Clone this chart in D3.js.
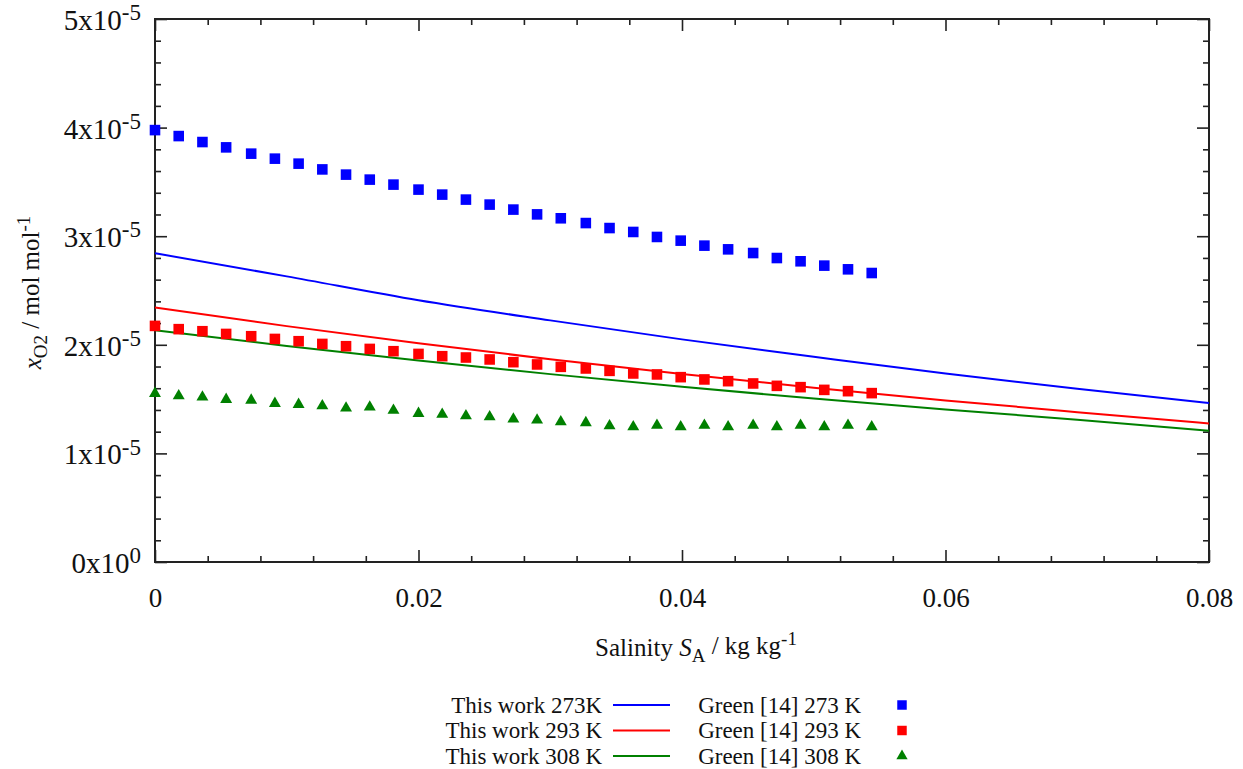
<!DOCTYPE html>
<meta charset="utf-8">
<style>
  body { margin: 0; background: #fff; }
  svg text { font-family: "Liberation Serif", "Times New Roman", serif; fill: #111; }
  .tick line { stroke: #222; stroke-width: 1.6; }
  .tick text { font-size: 27px; }
  .ylab text { font-size: 29px; }
  .frame { fill: none; stroke: #222; stroke-width: 2; }
  .title { font-size: 25px; }
  .legend text { font-size: 23px; }
</style>
<body>
<script src="https://d3js.org/d3.v7.min.js"></script>
<script>

// salinity S_A / kg kg-1 of the Green [14] points
var salinity = [0, 0.0018, 0.0036, 0.0054, 0.0073, 0.0091, 0.0109, 0.0127, 0.0145, 0.0163,
  0.0181, 0.0200, 0.0218, 0.0236, 0.0254, 0.0272, 0.0290, 0.0308, 0.0327, 0.0345,
  0.0363, 0.0381, 0.0399, 0.0417, 0.0435, 0.0454, 0.0472, 0.0490, 0.0508, 0.0526, 0.0544];

// x_O2 in units of 1e-5 mol/mol
var green273 = [3.977, 3.922, 3.867, 3.818, 3.760, 3.714, 3.668, 3.615, 3.567, 3.521,
  3.475, 3.429, 3.383, 3.337, 3.291, 3.245, 3.201, 3.165, 3.121, 3.075,
  3.039, 2.993, 2.959, 2.913, 2.879, 2.845, 2.799, 2.769, 2.729, 2.695, 2.661];
var green293 = [2.174, 2.144, 2.125, 2.100, 2.079, 2.054, 2.033, 2.008, 1.987, 1.962,
  1.941, 1.916, 1.895, 1.883, 1.865, 1.840, 1.819, 1.797, 1.782, 1.760,
  1.736, 1.727, 1.702, 1.681, 1.665, 1.644, 1.622, 1.610, 1.585, 1.573, 1.555];
var green308 = [1.552, 1.530, 1.518, 1.497, 1.490, 1.460, 1.451, 1.438, 1.417, 1.426,
  1.396, 1.368, 1.359, 1.346, 1.337, 1.316, 1.306, 1.291, 1.282, 1.254,
  1.245, 1.258, 1.245, 1.258, 1.245, 1.258, 1.245, 1.258, 1.245, 1.258, 1.245];

// model curves ("this work")
var curveSalinity = [0, 0.01, 0.02, 0.03, 0.04, 0.05, 0.06, 0.07, 0.08];
var work273 = [2.843, 2.630, 2.410, 2.225, 2.050, 1.890, 1.735, 1.595, 1.463];
var work293 = [2.343, 2.172, 2.014, 1.867, 1.731, 1.605, 1.488, 1.380, 1.276];
var work308 = [2.134, 1.990, 1.855, 1.730, 1.613, 1.505, 1.405, 1.310, 1.208];

var xMajor = [0, 0.02, 0.04, 0.06, 0.08];
var xLabels = ["0", "0.02", "0.04", "0.06", "0.08"];
var yMajor = [0, 1, 2, 3, 4, 5];
var yMantissa = ["0", "1", "2", "3", "4", "5"];
var yExponent = ["0", "-5", "-5", "-5", "-5", "-5"];

var lineNames = ["This work 273K", "This work 293 K", "This work 308 K"];
var markerNames = ["Green [14] 273 K", "Green [14] 293 K", "Green [14] 308 K"];
var colors = ["#0000ff", "#ff0000", "#008000"];

var width = 1243, height = 769;
var margin = {top: 19, right: 34, bottom: 207, left: 155};
var plotW = width - margin.left - margin.right,
    plotH = height - margin.top - margin.bottom;

var svg = d3.select("body").append("svg")
    .attr("width", width)
    .attr("height", height);

var g = svg.append("g")
    .attr("transform", "translate(" + margin.left + "," + margin.top + ")");

var x = d3.scaleLinear().domain([0, 0.08]).range([0, plotW]);
var y = d3.scaleLinear().domain([0, 5]).range([plotH, 0]);

var xMinor = d3.range(0, 41).map(function(i) { return i * 0.002; }).filter(function(v, i) { return i % 2 === 0 && i % 10 !== 0; });
var yMinor = d3.range(0, 26).map(function(i) { return i * 0.2; }).filter(function(v, i) { return i % 5 !== 0; });

// inward ticks on all four sides
function ticks(axis, vals, size, transform) {
  var a = g.append("g").attr("transform", transform || null)
    .call(axis.tickValues(vals).tickSize(-size).tickSizeOuter(0).tickFormat(""));
  a.select(".domain").remove();
  return a;
}
ticks(d3.axisBottom(x), xMinor, 6, "translate(0," + plotH + ")");
ticks(d3.axisTop(x), xMinor, 6);
ticks(d3.axisLeft(y), yMinor, 6);
ticks(d3.axisRight(y), yMinor, 6, "translate(" + plotW + ",0)");
ticks(d3.axisTop(x), xMajor, 12);
ticks(d3.axisRight(y), yMajor, 12, "translate(" + plotW + ",0)");

var xAxis = ticks(d3.axisBottom(x), xMajor, 12, "translate(0," + plotH + ")");
xAxis.selectAll(".tick text")
    .attr("y", 45)
    .attr("dy", null)
    .text(function(d, i) { return xLabels[i]; });

var yAxis = ticks(d3.axisLeft(y), yMajor, 12).attr("class", "ylab");
yAxis.selectAll(".tick text").each(function(d, i) {
  var t = d3.select(this).text(null).attr("x", -14).attr("dy", "0.36em");
  t.append("tspan").text(yMantissa[i] + "x10");
  t.append("tspan").attr("dy", "-0.42em").style("font-size", "23px").text(yExponent[i]);
});

g.append("rect").attr("class", "frame")
    .attr("width", plotW).attr("height", plotH);

// model lines
var line = d3.line()
    .x(function(d) { return x(d[0]); })
    .y(function(d) { return y(d[1]); })
    .curve(d3.curveMonotoneX);

[work273, work293, work308].forEach(function(vals, k) {
  g.append("path")
    .datum(curveSalinity.map(function(s, i) { return [s, vals[i]]; }))
    .attr("fill", "none")
    .attr("stroke", colors[k])
    .attr("stroke-width", 2)
    .attr("d", line);
});

// data points
var square = d3.symbol().type(d3.symbolSquare).size(112);
var triangle = d3.symbol().type(d3.symbolTriangle).size(62);

[green273, green293, green308].forEach(function(vals, k) {
  g.append("g").selectAll("path")
    .data(vals)
    .enter().append("path")
    .attr("d", k < 2 ? square : triangle)
    .attr("fill", colors[k])
    .attr("transform", function(d, i) {
      return "translate(" + x(salinity[i]) + "," + y(d) + ")";
    });
});

// axis titles
var xt = svg.append("text").attr("class", "title")
    .attr("x", 696).attr("y", 656)
    .attr("text-anchor", "middle");
xt.append("tspan").text("Salinity ");
xt.append("tspan").style("font-style", "italic").text("S");
xt.append("tspan").attr("dy", "0.3em").style("font-size", "19px").text("A");
xt.append("tspan").attr("dy", "-0.3em").text(" / kg kg");
xt.append("tspan").attr("dy", "-0.5em").style("font-size", "19px").text("-1");

var yt = svg.append("text").attr("class", "title")
    .attr("transform", "translate(41," + (margin.top + plotH / 2 + 2) + ") rotate(-90)")
    .attr("text-anchor", "middle");
yt.append("tspan").style("font-style", "italic").text("x");
yt.append("tspan").attr("dy", "0.3em").style("font-size", "19px").text("O2");
yt.append("tspan").attr("dy", "-0.3em").text(" / mol mol");
yt.append("tspan").attr("dy", "-0.5em").style("font-size", "19px").text("-1");

// legend
var legend = svg.append("g").attr("class", "legend");
var rowY = d3.scaleLinear().domain([0, 1]).range([705, 730.5]);

lineNames.forEach(function(name, k) {
  var yy = rowY(k);
  legend.append("text").attr("x", 602).attr("y", yy).attr("dy", "0.33em")
    .attr("text-anchor", "end").text(name);
  legend.append("line").attr("x1", 613).attr("x2", 670)
    .attr("y1", yy).attr("y2", yy)
    .attr("stroke", colors[k]).attr("stroke-width", 2);
  legend.append("text").attr("x", 861).attr("y", yy).attr("dy", "0.33em")
    .attr("text-anchor", "end").text(markerNames[k]);
  legend.append("path")
    .attr("d", k < 2 ? d3.symbol().type(d3.symbolSquare).size(90)() : d3.symbol().type(d3.symbolTriangle).size(55)())
    .attr("fill", colors[k])
    .attr("transform", "translate(902," + yy + ")");
});

</script>
</body>
</html>
